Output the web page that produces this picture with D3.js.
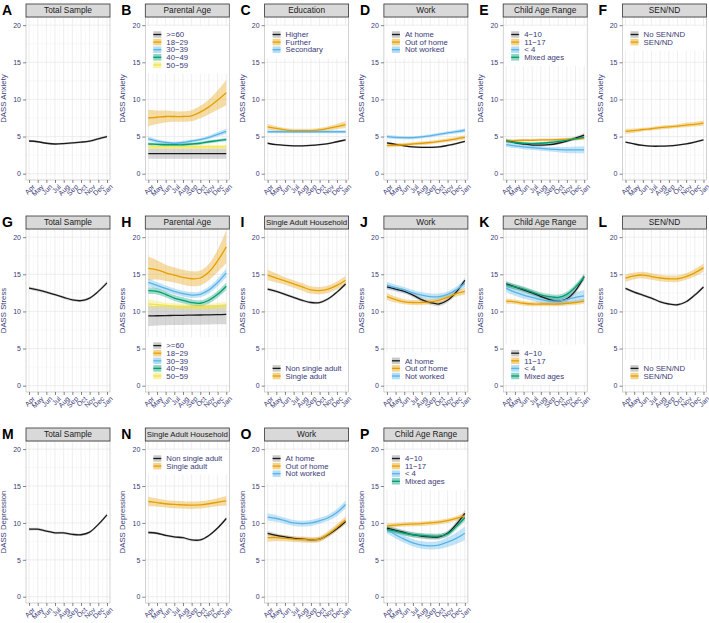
<!DOCTYPE html>
<html><head><meta charset="utf-8">
<script src="https://cdn.jsdelivr.net/npm/d3@7"></script>
<style>body{margin:0;background:#fff}text{font-family:"Liberation Sans",Arial,sans-serif}</style>
</head><body><svg id="c" width="709" height="623"></svg>
<script>
// ---------- DATA ----------
const months = ["Apr","May","Jun","Jul","Aug","Sep","Oct","Nov","Dec","Jan"];
const yTicks = [0,5,10,15,20];
const rowTitles = ["DASS Anxiety","DASS Stress","DASS Depression"];

// Anxiety
const anxTotal = [4.4,4.3,4.1,4.0,4.05,4.15,4.25,4.4,4.7,5.0];
const anxTotalCI = [0.18,0.15,0.14,0.14,0.14,0.14,0.14,0.15,0.16,0.18];
const anxAge60 = [2.7,2.7,2.7,2.7,2.7,2.7,2.7,2.7,2.7,2.7];
const anxAge60CI = [0.7,0.7,0.7,0.7,0.7,0.7,0.7,0.7,0.7,0.7];
const anxAge18 = [7.5,7.6,7.7,7.7,7.7,7.8,8.3,9.0,9.9,10.9];
const anxAge18CI = [1.1,0.9,0.8,0.7,0.7,0.75,0.85,1.0,1.3,1.7];
const anxAge30 = [4.7,4.4,4.2,4.1,4.2,4.4,4.6,4.9,5.3,5.7];
const anxAge30CI = [0.3,0.25,0.2,0.2,0.2,0.2,0.2,0.25,0.3,0.35];
const anxAge40 = [4.0,3.95,3.9,3.9,3.9,4.0,4.1,4.3,4.45,4.6];
const anxAge40CI = [0.2,0.2,0.2,0.2,0.2,0.2,0.2,0.2,0.2,0.22];
const anxAge50 = [3.6,3.6,3.6,3.6,3.6,3.6,3.6,3.6,3.6,3.6];
const anxAge50CI = [0.3,0.3,0.3,0.3,0.3,0.3,0.3,0.3,0.3,0.3];
const anxEduHigh = [4.1,3.9,3.8,3.75,3.75,3.8,3.9,4.05,4.3,4.55];
const anxEduHighCI = [0.14,0.12,0.12,0.12,0.12,0.12,0.12,0.12,0.13,0.15];
const anxEduFurther = [6.3,6.1,5.9,5.8,5.8,5.8,5.9,6.1,6.35,6.6];
const anxEduFurtherCI = [0.4,0.3,0.25,0.25,0.25,0.25,0.25,0.3,0.35,0.45];
const anxEduSecondary = [5.65,5.65,5.65,5.65,5.65,5.65,5.65,5.65,5.65,5.65];
const anxEduSecondaryCI = [0.2,0.2,0.2,0.2,0.2,0.2,0.2,0.2,0.2,0.2];
const anxWorkHome = [4.15,3.95,3.75,3.6,3.55,3.55,3.6,3.8,4.05,4.35];
const anxWorkHomeCI = [0.15,0.14,0.13,0.13,0.13,0.13,0.13,0.13,0.14,0.16];
const anxWorkOut = [3.8,3.85,3.9,4.0,4.1,4.2,4.35,4.5,4.7,4.9];
const anxWorkOutCI = [0.28,0.25,0.22,0.22,0.22,0.22,0.22,0.23,0.25,0.28];
const anxWorkNot = [5.0,4.9,4.85,4.85,4.95,5.1,5.3,5.5,5.65,5.85];
const anxWorkNotCI = [0.25,0.22,0.2,0.2,0.2,0.2,0.2,0.22,0.24,0.27];
const anxChild410 = [4.5,4.2,4.0,3.85,3.85,3.9,4.1,4.4,4.8,5.2];
const anxChild410CI = [0.25,0.2,0.18,0.18,0.18,0.18,0.18,0.2,0.22,0.26];
const anxChild1117 = [4.4,4.45,4.5,4.5,4.55,4.55,4.6,4.65,4.7,4.8];
const anxChild1117CI = [0.22,0.2,0.18,0.18,0.18,0.18,0.18,0.18,0.2,0.22];
const anxChildLt4 = [3.9,3.75,3.6,3.5,3.4,3.3,3.25,3.2,3.2,3.2];
const anxChildLt4CI = [0.3,0.3,0.3,0.3,0.3,0.3,0.35,0.4,0.45,0.5];
const anxChildMix = [4.4,4.2,4.1,4.05,4.1,4.2,4.35,4.5,4.7,4.9];
const anxChildMixCI = [0.2,0.18,0.17,0.17,0.17,0.17,0.17,0.18,0.2,0.22];
const anxSenNo = [4.25,4.0,3.8,3.7,3.7,3.75,3.85,4.0,4.25,4.55];
const anxSenNoCI = [0.13,0.12,0.12,0.12,0.12,0.12,0.12,0.12,0.13,0.14];
const anxSenYes = [5.7,5.8,5.95,6.05,6.2,6.3,6.4,6.55,6.65,6.8];
const anxSenYesCI = [0.35,0.3,0.25,0.25,0.25,0.25,0.25,0.3,0.3,0.35];

// Stress
const strTotal = [13.15,12.9,12.6,12.25,11.9,11.55,11.45,11.8,12.7,13.85];
const strTotalCI = [0.22,0.2,0.18,0.18,0.18,0.18,0.18,0.18,0.2,0.24];
const strAge60 = [9.4,9.42,9.44,9.46,9.48,9.5,9.52,9.54,9.56,9.6];
const strAge60CI = [1.35,1.3,1.3,1.3,1.3,1.3,1.3,1.3,1.3,1.35];
const strAge18 = [15.8,15.6,15.2,14.9,14.6,14.4,14.5,15.3,16.8,18.7];
const strAge18CI = [1.6,1.3,1.1,1.0,1.0,1.0,1.0,1.1,1.5,2.2];
const strAge30 = [13.9,13.5,13.1,12.7,12.4,12.2,12.3,12.9,13.9,15.2];
const strAge30CI = [0.5,0.45,0.4,0.4,0.4,0.4,0.4,0.45,0.5,0.6];
const strAge40 = [12.8,12.7,12.3,11.8,11.5,11.2,11.1,11.5,12.3,13.4];
const strAge40CI = [0.45,0.42,0.4,0.4,0.4,0.4,0.4,0.42,0.45,0.5];
const strAge50 = [11.0,10.9,10.8,10.7,10.65,10.6,10.6,10.65,10.7,10.8];
const strAge50CI = [0.6,0.5,0.4,0.4,0.4,0.4,0.4,0.4,0.45,0.5];
const strSingleNo = [13.0,12.7,12.3,11.9,11.5,11.2,11.2,11.7,12.6,13.7];
const strSingleNoCI = [0.22,0.2,0.18,0.18,0.18,0.18,0.18,0.18,0.2,0.24];
const strSingleYes = [14.9,14.5,14.1,13.7,13.3,12.9,12.8,13.0,13.5,14.2];
const strSingleYesCI = [0.7,0.6,0.5,0.5,0.5,0.5,0.5,0.5,0.5,0.6];
const strWorkHome = [13.3,13.0,12.7,12.2,11.6,11.2,11.0,11.5,12.6,14.2];
const strWorkHomeCI = [0.35,0.3,0.3,0.3,0.3,0.3,0.3,0.3,0.32,0.38];
const strWorkOut = [12.0,11.6,11.3,11.2,11.2,11.3,11.5,11.9,12.4,12.7];
const strWorkOutCI = [0.45,0.4,0.35,0.35,0.35,0.35,0.35,0.38,0.4,0.45];
const strWorkNot = [13.5,13.2,12.9,12.5,12.2,12.0,12.0,12.3,12.9,13.8];
const strWorkNotCI = [0.45,0.4,0.4,0.4,0.4,0.4,0.4,0.4,0.42,0.5];
const strChild410 = [13.7,13.3,12.9,12.5,12.0,11.6,11.4,11.7,12.8,14.7];
const strChild410CI = [0.4,0.35,0.35,0.35,0.35,0.35,0.35,0.35,0.38,0.45];
const strChild1117 = [11.4,11.3,11.1,11.0,11.0,11.0,11.0,11.1,11.2,11.4];
const strChild1117CI = [0.35,0.3,0.3,0.3,0.3,0.3,0.3,0.3,0.3,0.35];
const strChildLt4 = [13.1,12.6,12.2,11.9,11.6,11.4,11.4,11.6,11.9,12.1];
const strChildLt4CI = [0.5,0.5,0.45,0.45,0.45,0.5,0.55,0.6,0.7,0.8];
const strChildMix = [13.6,13.3,13.0,12.6,12.2,12.0,11.9,12.3,13.3,14.6];
const strChildMixCI = [0.4,0.35,0.35,0.35,0.35,0.35,0.35,0.35,0.38,0.45];
const strSenNo = [13.1,12.6,12.2,11.8,11.3,11.0,10.9,11.3,12.2,13.3];
const strSenNoCI = [0.2,0.18,0.18,0.18,0.18,0.18,0.18,0.18,0.2,0.22];
const strSenYes = [14.5,14.8,14.9,14.7,14.5,14.4,14.4,14.7,15.2,15.9];
const strSenYesCI = [0.5,0.45,0.45,0.45,0.45,0.45,0.45,0.45,0.5,0.55];

// Depression
const depTotal = [9.15,9.15,8.9,8.65,8.65,8.45,8.4,8.75,9.8,11.1];
const depTotalCI = [0.2,0.18,0.17,0.17,0.17,0.17,0.17,0.17,0.19,0.22];
const depSingleNo = [8.7,8.6,8.3,8.1,8.0,7.7,7.7,8.3,9.3,10.6];
const depSingleNoCI = [0.2,0.18,0.17,0.17,0.17,0.17,0.17,0.17,0.19,0.22];
const depSingleYes = [12.9,12.75,12.6,12.5,12.45,12.4,12.45,12.6,12.8,13.0];
const depSingleYesCI = [0.65,0.55,0.5,0.5,0.5,0.5,0.5,0.5,0.55,0.65];
const depWorkHome = [8.6,8.3,8.1,7.9,7.8,7.7,7.8,8.4,9.2,10.2];
const depWorkHomeCI = [0.3,0.28,0.25,0.25,0.25,0.25,0.25,0.27,0.3,0.35];
const depWorkOut = [8.0,8.0,7.9,7.8,7.75,7.7,7.8,8.5,9.4,10.4];
const depWorkOutCI = [0.55,0.45,0.4,0.4,0.4,0.4,0.4,0.42,0.45,0.5];
const depWorkNot = [10.8,10.6,10.3,10.0,9.9,10.0,10.3,10.7,11.4,12.5];
const depWorkNotCI = [0.5,0.45,0.4,0.4,0.4,0.4,0.4,0.42,0.48,0.55];
const depChild410 = [9.3,9.0,8.7,8.4,8.2,8.1,8.1,8.6,9.8,11.3];
const depChild410CI = [0.4,0.35,0.35,0.35,0.35,0.35,0.35,0.35,0.38,0.45];
const depChild1117 = [9.6,9.7,9.8,9.85,9.9,10.0,10.1,10.3,10.6,11.0];
const depChild1117CI = [0.35,0.3,0.3,0.3,0.3,0.3,0.3,0.3,0.32,0.38];
const depChildLt4 = [9.1,8.4,7.8,7.3,7.0,6.9,7.0,7.4,7.9,8.6];
const depChildLt4CI = [0.5,0.5,0.5,0.5,0.5,0.5,0.55,0.65,0.75,0.9];
const depChildMix = [9.1,8.9,8.6,8.4,8.3,8.2,8.2,8.5,9.5,10.7];
const depChildMixCI = [0.4,0.35,0.35,0.35,0.35,0.35,0.35,0.35,0.38,0.45];

// Legend labels
const ageLabels = [">=60","18\u221229","30\u221239","40\u221249","50\u221259"];
const eduLabels = ["Higher","Further","Secondary"];
const workLabels = ["At home","Out of home","Not worked"];
const childLabels = ["4\u221210","11\u221217","< 4","Mixed ages"];
const senLabels = ["No SEN/ND","SEN/ND"];
const singleLabels = ["Non single adult","Single adult"];
const palette = ["#1a1a1a","#E69F00","#56B4E9","#009E73","#F0E442"];
const ribbonPalette = ["#8c8c8c","#E69F00","#56B4E9","#009E73","#F0E442"];

// ---------- PANELS ----------
const panels = [
 {id:"A",row:0,col:0,title:"Total Sample",series:[[anxTotal,anxTotalCI]],labels:null},
 {id:"B",row:0,col:1,title:"Parental Age",series:[[anxAge60,anxAge60CI],[anxAge18,anxAge18CI],[anxAge30,anxAge30CI],[anxAge40,anxAge40CI],[anxAge50,anxAge50CI]],labels:ageLabels,lpos:"top"},
 {id:"C",row:0,col:2,title:"Education",series:[[anxEduHigh,anxEduHighCI],[anxEduFurther,anxEduFurtherCI],[anxEduSecondary,anxEduSecondaryCI]],labels:eduLabels,lpos:"top"},
 {id:"D",row:0,col:3,title:"Work",series:[[anxWorkHome,anxWorkHomeCI],[anxWorkOut,anxWorkOutCI],[anxWorkNot,anxWorkNotCI]],labels:workLabels,lpos:"top"},
 {id:"E",row:0,col:4,title:"Child Age Range",series:[[anxChild410,anxChild410CI],[anxChild1117,anxChild1117CI],[anxChildLt4,anxChildLt4CI],[anxChildMix,anxChildMixCI]],labels:childLabels,lpos:"top"},
 {id:"F",row:0,col:5,title:"SEN/ND",series:[[anxSenNo,anxSenNoCI],[anxSenYes,anxSenYesCI]],labels:senLabels,lpos:"top"},
 {id:"G",row:1,col:0,title:"Total Sample",series:[[strTotal,strTotalCI]],labels:null},
 {id:"H",row:1,col:1,title:"Parental Age",series:[[strAge60,strAge60CI],[strAge18,strAge18CI],[strAge30,strAge30CI],[strAge40,strAge40CI],[strAge50,strAge50CI]],labels:ageLabels,lpos:"bottom"},
 {id:"I",row:1,col:2,title:"Single Adult Household",series:[[strSingleNo,strSingleNoCI],[strSingleYes,strSingleYesCI]],labels:singleLabels,lpos:"bottom"},
 {id:"J",row:1,col:3,title:"Work",series:[[strWorkHome,strWorkHomeCI],[strWorkOut,strWorkOutCI],[strWorkNot,strWorkNotCI]],labels:workLabels,lpos:"bottom"},
 {id:"K",row:1,col:4,title:"Child Age Range",series:[[strChild410,strChild410CI],[strChild1117,strChild1117CI],[strChildLt4,strChildLt4CI],[strChildMix,strChildMixCI]],labels:childLabels,lpos:"bottom"},
 {id:"L",row:1,col:5,title:"SEN/ND",series:[[strSenNo,strSenNoCI],[strSenYes,strSenYesCI]],labels:senLabels,lpos:"bottom"},
 {id:"M",row:2,col:0,title:"Total Sample",series:[[depTotal,depTotalCI]],labels:null},
 {id:"N",row:2,col:1,title:"Single Adult Household",series:[[depSingleNo,depSingleNoCI],[depSingleYes,depSingleYesCI]],labels:singleLabels,lpos:"top"},
 {id:"O",row:2,col:2,title:"Work",series:[[depWorkHome,depWorkHomeCI],[depWorkOut,depWorkOutCI],[depWorkNot,depWorkNotCI]],labels:workLabels,lpos:"top"},
 {id:"P",row:2,col:3,title:"Child Age Range",series:[[depChild410,depChild410CI],[depChild1117,depChild1117CI],[depChildLt4,depChildLt4CI],[depChildMix,depChildMixCI]],labels:childLabels,lpos:"top"}
];

// ---------- LAYOUT ----------
const colX = [26,145.3,264.6,383.9,503.2,622.5];
const pw = 84;
const rowTop = [17,229,441];
const rowBot = [180,392,603];
const stripH = 13;
const navy = "#3b3b78";

const svg = d3.select("#c");

panels.forEach(p => {
  const x0 = colX[p.col], x1 = x0 + pw, yT = rowTop[p.row], yB = rowBot[p.row];
  const x = d3.scaleLinear().domain([-0.35, months.length - 1 + 0.35]).range([x0, x1]);
  const y = d3.scaleLinear().domain([-0.85, 21.1]).range([yB, yT]);
  const g = svg.append("g");

  // background + grid
  g.append("rect").attr("x",x0).attr("y",yT).attr("width",pw).attr("height",yB-yT).attr("fill","#fff");
  const minorY = [2.5,7.5,12.5,17.5];
  g.selectAll(null).data(minorY).join("line")
    .attr("x1",x0).attr("x2",x1).attr("y1",d=>y(d)).attr("y2",d=>y(d))
    .attr("stroke","#f3f3f3").attr("stroke-width",0.5);
  g.selectAll(null).data(yTicks).join("line")
    .attr("x1",x0).attr("x2",x1).attr("y1",d=>y(d)).attr("y2",d=>y(d))
    .attr("stroke","#e6e6e6").attr("stroke-width",0.7);
  const minorX = d3.range(months.length - 1).map(i => i + 0.5);
  g.selectAll(null).data(minorX).join("line")
    .attr("y1",yT).attr("y2",yB).attr("x1",d=>x(d)).attr("x2",d=>x(d))
    .attr("stroke","#f3f3f3").attr("stroke-width",0.5);
  g.selectAll(null).data(d3.range(months.length)).join("line")
    .attr("y1",yT).attr("y2",yB).attr("x1",d=>x(d)).attr("x2",d=>x(d))
    .attr("stroke","#e6e6e6").attr("stroke-width",0.7);

  // legend background (drawn before data so it masks grid)
  let legendRows = [];
  if (p.labels) {
    const n = p.labels.length, sp = 7.6;
    let first;
    if (p.lpos === "top") first = yT + 17.5;
    else first = yB - 16 - (n - 1) * sp;
    legendRows = p.labels.map((l,i) => ({label:l, cy:first + i*sp, i:i}));
    g.append("rect").attr("x",x0+0.5).attr("width",pw-1)
      .attr("y",first - 8.5).attr("height",(n-1)*sp + 17)
      .attr("fill","#fff");
  }

  // series
  const area = d3.area().x((d,i)=>x(i)).y0(d=>y(d[0]-d[1])).y1(d=>y(d[0]+d[1])).curve(d3.curveCatmullRom.alpha(0.5));
  const line = d3.line().x((d,i)=>x(i)).y(d=>y(d)).curve(d3.curveCatmullRom.alpha(0.5));
  p.series.forEach((s,k) => {
    const pts = s[0].map((v,i)=>[v, s[1][i]]);
    g.append("path").attr("d",area(pts)).attr("fill",ribbonPalette[k]).attr("fill-opacity",0.35).attr("stroke","none");
  });
  p.series.forEach((s,k) => {
    g.append("path").attr("d",line(s[0])).attr("fill","none").attr("stroke",palette[k]).attr("stroke-width",1.3);
  });

  // legend keys
  legendRows.forEach(r => {
    const kx = x0 + 8, kw = 8, kh = 6.5;
    g.append("rect").attr("x",kx).attr("y",r.cy-kh/2).attr("width",kw).attr("height",kh)
      .attr("fill",ribbonPalette[r.i]).attr("fill-opacity",0.45);
    g.append("line").attr("x1",kx).attr("x2",kx+kw).attr("y1",r.cy).attr("y2",r.cy)
      .attr("stroke",palette[r.i]).attr("stroke-width",1.3);
    g.append("text").attr("x",x0+21).attr("y",r.cy).attr("dy","0.35em")
      .attr("font-size",7.8).attr("fill",navy).text(r.label);
  });

  // panel border
  g.append("rect").attr("x",x0).attr("y",yT).attr("width",pw).attr("height",yB-yT)
    .attr("fill","none").attr("stroke","#b5b5b5").attr("stroke-width",0.6);

  // strip
  g.append("rect").attr("x",x0).attr("y",yT-stripH).attr("width",pw).attr("height",stripH)
    .attr("fill","#d9d9d9").attr("stroke","#333").attr("stroke-width",0.8);
  const st = g.append("text").attr("x",x0+pw/2).attr("y",yT-stripH/2).attr("dy","0.35em")
    .attr("text-anchor","middle").attr("font-size",8.3).attr("fill","#1a1a1a").text(p.title);
  const stw = st.node().getComputedTextLength();
  if (stw > pw - 3) st.attr("font-size", 8.3 * (pw - 3) / stw);

  // y axis
  const ya = d3.axisLeft(y).tickValues(yTicks).tickSize(3).tickPadding(2);
  const yg = g.append("g").attr("transform",`translate(${x0},0)`).call(ya);
  yg.select(".domain").remove();
  yg.selectAll(".tick line").attr("stroke","#333").attr("stroke-width",0.6);
  yg.selectAll(".tick text").attr("font-size",7).attr("fill",navy).attr("font-family","Liberation Sans, Arial, sans-serif");

  // x axis
  const xa = d3.axisBottom(x).tickValues(d3.range(months.length)).tickFormat(i=>months[i]).tickSize(3).tickPadding(1);
  const xg = g.append("g").attr("transform",`translate(0,${yB})`).call(xa);
  xg.select(".domain").remove();
  xg.selectAll(".tick line").attr("stroke","#333").attr("stroke-width",0.6);
  xg.selectAll(".tick text").attr("font-size",7).attr("fill",navy)
    .attr("font-family","Liberation Sans, Arial, sans-serif")
    .attr("text-anchor","end").attr("dy","0.3em")
    .attr("transform","translate(1.5,3) rotate(-45)");

  // y title
  g.append("text").attr("transform",`translate(${x0-20},${(yT+yB)/2}) rotate(-90)`)
    .attr("text-anchor","middle").attr("font-size",7.8).attr("fill",navy).text(rowTitles[p.row]);

  // panel letter
  g.append("text").attr("x",x0-24).attr("y",yT-stripH+10.5)
    .attr("font-size",14).attr("font-weight","bold").attr("fill","#000").text(p.id);
});
</script></body></html>
